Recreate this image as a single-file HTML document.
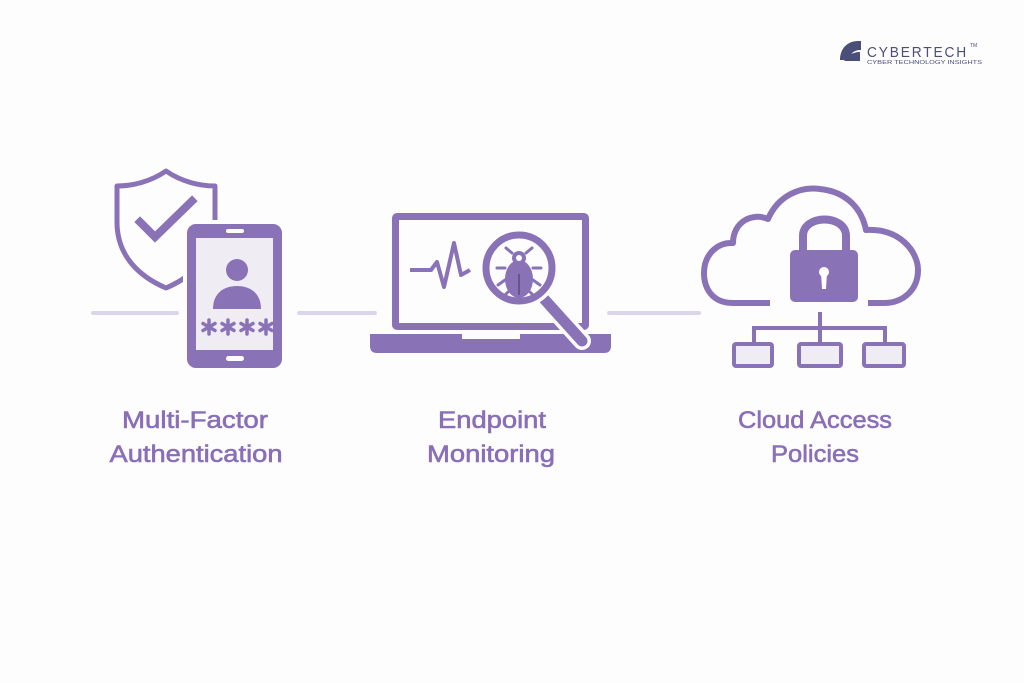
<!DOCTYPE html>
<html><head><meta charset="utf-8"><style>
html,body{margin:0;padding:0;background:#fdfdfd;}
svg{display:block;}
text{font-family:"Liberation Sans",sans-serif;}
</style></head><body>
<svg width="1024" height="683" viewBox="0 0 1024 683" xmlns="http://www.w3.org/2000/svg">
<rect width="1024" height="683" fill="#fdfdfd"/>
<g stroke="#dcd5ea" stroke-width="4" stroke-linecap="round">
<line x1="93" y1="313" x2="177" y2="313"/>
<line x1="299" y1="313" x2="375" y2="313"/>
<line x1="609" y1="313" x2="699" y2="313"/>
</g>
<g fill="#8a72b7" stroke="#8a72b7">
<path d="M166 171 C150 182 132 186 117 186 L117 222 C117 255 138 276 166 288 C194 276 215 255 215 222 L215 186 C200 186 182 182 166 171 Z" fill="#fdfdfd" stroke-width="5" stroke-linejoin="round"/>
<path d="M140 222 L155 237 L192 201" fill="none" stroke-width="8" stroke-linecap="square"/>
<rect x="183" y="220" width="103" height="152" rx="12" fill="#fdfdfd" stroke="none"/>
<rect x="187" y="224" width="95" height="144" rx="9" stroke="none"/>
<rect x="196" y="238" width="77" height="112" fill="#efecf3" stroke="none"/>
<rect x="226" y="229" width="18" height="4" rx="2" fill="#fdfdfd" stroke="none"/>
<rect x="226" y="356" width="18" height="5" rx="2.5" fill="#fdfdfd" stroke="none"/>
<circle cx="237" cy="270" r="11" stroke="none"/>
<path d="M213 309 C213 293 224 286 237 286 C250 286 261 293 261 309 Z" stroke="none"/>
<g stroke-width="3.5" stroke-linecap="round">
<path d="M209 320 L209 334 M203 323.5 L215 330.5 M203 330.5 L215 323.5"/>
<path d="M228 320 L228 334 M222 323.5 L234 330.5 M222 330.5 L234 323.5"/>
<path d="M247 320 L247 334 M241 323.5 L253 330.5 M241 330.5 L253 323.5"/>
<path d="M266 320 L266 334 M260 323.5 L272 330.5 M260 330.5 L272 323.5"/>
</g>
<rect x="392" y="213" width="197" height="117" rx="5" stroke="none"/>
<rect x="399" y="220" width="183" height="103" fill="#fdfdfd" stroke="none"/>
<path d="M370 334 L611 334 L611 346 Q611 353 604 353 L377 353 Q370 353 370 346 Z" stroke="none"/>
<rect x="462" y="334" width="58" height="5" fill="#fdfdfd" stroke="none"/>
<path d="M410 270 L431 270 L437 262 L444 287 L454 243 L461 275 L470 270" fill="none" stroke-width="4" stroke-linejoin="round"/>
<line x1="545" y1="300" x2="582" y2="341" stroke="#fdfdfd" stroke-width="18" stroke-linecap="round"/>
<line x1="545" y1="300" x2="582" y2="341" stroke-width="11" stroke-linecap="round"/>
<circle cx="519" cy="268" r="40" fill="#fdfdfd" stroke="none"/>
<circle cx="519" cy="268" r="33" fill="#fdfdfd" stroke-width="7"/>
<ellipse cx="519" cy="279" rx="14" ry="19" stroke="none"/>
<circle cx="519" cy="258" r="7" stroke="none"/>
<circle cx="519" cy="258" r="3" fill="#fdfdfd" stroke="none"/>
<g stroke-width="3" fill="none" stroke-linecap="round">
<path d="M512 253 L506 248 M526 253 L532 248"/>
<path d="M505 268 L497 268 M533 268 L541 268"/>
<path d="M505 280 L498 285 M533 280 L540 285"/>
<path d="M508 292 L503 297 M530 292 L535 297"/>
</g>
<line x1="519" y1="274" x2="519" y2="295" stroke="#5b4a7a" stroke-width="1.5"/>
<path d="M770 303 L733 303 C712 303 704 288 704 273 C704 255 717 242 733 243 C733 222 752 212 768 219 C778 196 800 186 820 189 C848 192 862 210 866 230 C900 228 918 252 918 270 C918 290 903 303 884 303 L868 303" fill="none" stroke-width="6" stroke-linejoin="round"/>
<path d="M803 252 L803 236 C803 214 846 214 846 236 L846 252" fill="none" stroke-width="8"/>
<rect x="790" y="250" width="68" height="52" rx="5" stroke="none"/>
<circle cx="824" cy="272" r="5" fill="#fdfdfd" stroke="none"/>
<path d="M821 273 L827 273 L826 289 L822 289 Z" fill="#fdfdfd" stroke="none"/>
<g fill="none" stroke-width="4">
<line x1="820" y1="312" x2="820" y2="328"/>
<path d="M754 343 L754 328 L885 328 L885 343"/>
<line x1="820" y1="328" x2="820" y2="343"/>
</g>
<g fill="#efecf3" stroke-width="4">
<rect x="734" y="344" width="38" height="22" rx="2"/>
<rect x="799" y="344" width="42" height="22" rx="2"/>
<rect x="864" y="344" width="40" height="22" rx="2"/>
</g>
</g>
<g fill="#8a6fb8" stroke="#8a6fb8" stroke-width="0.6" font-size="24" text-anchor="middle">
<text x="195" y="428" textLength="146" lengthAdjust="spacingAndGlyphs">Multi-Factor</text>
<text x="196" y="462" textLength="173" lengthAdjust="spacingAndGlyphs">Authentication</text>
<text x="492" y="428" textLength="108" lengthAdjust="spacingAndGlyphs">Endpoint</text>
<text x="491" y="462" textLength="128" lengthAdjust="spacingAndGlyphs">Monitoring</text>
<text x="815" y="428" textLength="154" lengthAdjust="spacingAndGlyphs">Cloud Access</text>
<text x="815" y="462" textLength="88" lengthAdjust="spacingAndGlyphs">Policies</text>
</g>
<path d="M840 60 C840 48 848 41 858 41 L861 41 L861 50 C853 50 850 54 850 60 Z" fill="#4a4f7a"/>
<path d="M844 61 L860 61 L860 52 C852 52 848 56 844 61 Z" fill="#4a4f7a"/>
<text x="867" y="57" font-size="15" fill="#4a4f7a" textLength="101" lengthAdjust="spacingAndGlyphs" letter-spacing="2">CYBERTECH</text>
<text x="970" y="47" font-size="5" fill="#4a4f7a">TM</text>
<text x="867" y="64" font-size="5.5" fill="#4a4f7a" textLength="115" lengthAdjust="spacingAndGlyphs">CYBER TECHNOLOGY INSIGHTS</text>
</svg>
</body></html>
